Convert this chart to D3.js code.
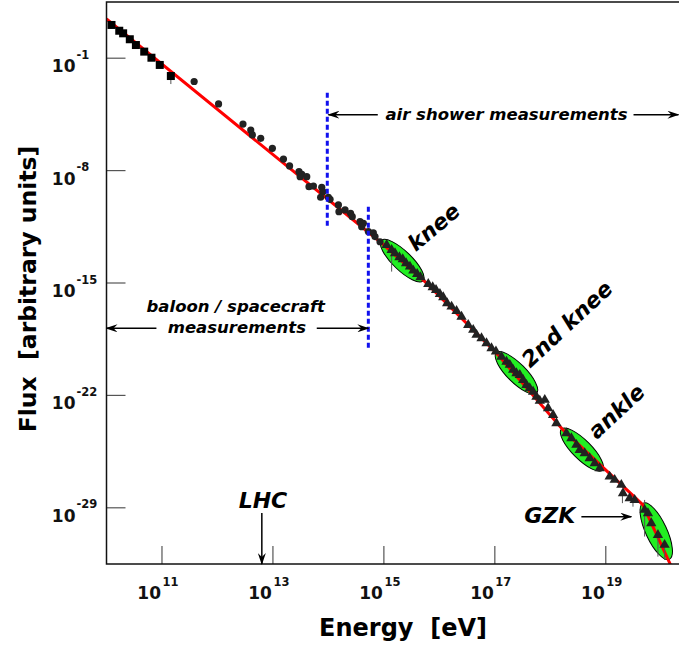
<!DOCTYPE html>
<html>
<head>
<meta charset="utf-8">
<script src="https://cdn.jsdelivr.net/npm/d3@7"></script>
<style>
  body { margin: 0; background: #fff; }
  svg { display: block; font-family: "DejaVu Sans", sans-serif; }
</style>
</head>
<body>
<svg id="chart" width="679" height="645"></svg>
<script>
// 宇宙线能谱，所有数值都是 log10
const xTicks = [11, 13, 15, 17, 19];
const yTicks = [-1, -8, -15, -22, -29];

// 红色拟合折线 [log E, log F]
const fitE = [10.0, 14.93, 15.74, 17.03, 18.23, 19.67, 20.2];
const fitF = [1.44, -12.43, -14.92, -19.37, -24.15, -28.82, -32.8];

// 方块：低能直接测量
const squareE = [10.09, 10.23, 10.30, 10.42, 10.53, 10.68, 10.81, 10.96, 11.16];
const squareF = [1.07, 0.71, 0.55, 0.18, -0.18, -0.59, -0.97, -1.42, -2.11];

// 圆点
const circleE = [11.58, 12.02, 12.46, 12.60, 12.63, 12.78, 12.99, 13.19, 13.30, 13.47, 13.49, 13.52, 13.61, 13.65, 13.73, 13.88,
                 13.90, 13.86, 14.00, 14.03, 14.18, 14.19, 14.30, 14.40, 14.43, 14.57, 14.60, 14.63, 14.72, 14.81, 14.84, 14.93];
const circleF = [-2.45, -3.85, -5.10, -5.47, -5.78, -5.99, -6.61, -7.28, -7.71, -8.07, -8.38, -8.23, -8.38, -9.00, -8.96, -9.04,
                 -9.31, -9.66, -9.66, -9.79, -10.14, -10.56, -10.45, -10.66, -10.87, -11.18, -11.49, -11.28, -11.80, -11.87, -12.11, -12.43];

// 三角：空气簇射测量
const triE = [15.05, 15.14, 15.20, 15.28, 15.34, 15.40, 15.47, 15.53, 15.60, 15.66, 15.80, 15.88, 15.94, 16.01, 16.07, 16.14,
              16.22, 16.31, 16.40, 16.52, 16.61, 16.67, 16.76, 16.85, 16.94, 17.02, 17.12, 17.21, 17.27, 17.33, 17.39, 17.45,
              17.51, 17.57, 17.63, 17.69, 17.75, 17.81, 17.90, 17.96, 18.05, 18.11, 18.29, 18.38, 18.47, 18.53, 18.62, 18.71,
              18.80, 18.89, 19.07, 19.16, 19.28, 19.31, 19.43, 19.52, 19.70, 19.76, 19.82, 19.94, 20.06];
const triF = [-12.63, -12.94, -13.15, -13.40, -13.52, -13.77, -13.98, -14.23, -14.44, -14.64, -15.06, -15.26, -15.43, -15.68, -15.89, -16.26,
              -16.47, -16.74, -17.10, -17.61, -17.92, -18.23, -18.44, -18.75, -19.06, -19.27, -19.59, -19.90, -20.10, -20.41, -20.62, -20.73,
              -21.04, -21.35, -21.55, -21.77, -22.08, -22.33, -22.28, -22.80, -23.22, -23.73, -24.36, -24.67, -25.08, -25.40, -25.60, -25.91,
              -26.22, -26.54, -27.06, -27.26, -27.57, -28.09, -28.40, -28.51, -29.13, -29.34, -29.96, -30.69, -31.31];

// 误差棒 [log E, 上, 下]
const errBars = [[11.16, -2.23, -2.61], [15.14, -13.25, -14.29], [19.30, -28.09, -28.71], [19.49, -28.51, -28.93],
                 [19.70, -28.51, -30.79], [19.94, -30.69, -32.04], [20.06, -31.31, -32.25]];

// 绿色椭圆
const regionNames = ["knee", "2nd knee", "ankle", "GZK"];
const regionE = [15.33, 17.39, 18.57, 19.91];
const regionF = [-13.61, -20.60, -25.38, -30.46];

const svg = d3.select("#chart");
const mLeft = 106.5, mRight = 689, mTop = 2, mBottom = 564;

const x = d3.scaleLog().domain([1e10, Math.pow(10, 20.5)]).range([mLeft, mRight]);
const y = d3.scaleLog().domain([Math.pow(10, -32.5), Math.pow(10, 2.5)]).range([mBottom, mTop]);
const px = e => x(Math.pow(10, e));
const py = f => y(Math.pow(10, f));

// 箭头
const defs = svg.append("defs");
defs.append("marker")
  .attr("id", "arrow")
  .attr("viewBox", "0 0 12 8")
  .attr("refX", 11).attr("refY", 4)
  .attr("markerWidth", 12).attr("markerHeight", 8)
  .attr("markerUnits", "userSpaceOnUse")
  .attr("orient", "auto-start-reverse")
  .append("path")
  .attr("d", "M0,0 L12,4 L0,8 L4,4 Z")
  .attr("fill", "#000");

defs.append("clipPath").attr("id", "plotClip")
  .append("rect")
  .attr("x", mLeft).attr("y", mTop)
  .attr("width", mRight - mLeft).attr("height", mBottom - mTop);

// 刻度线
svg.append("g").selectAll("line")
  .data(xTicks)
  .join("line")
  .attr("x1", d => px(d)).attr("x2", d => px(d))
  .attr("y1", mBottom).attr("y2", mBottom - 18)
  .attr("stroke", "#555").attr("stroke-width", 1.2);

svg.append("g").selectAll("line")
  .data(yTicks)
  .join("line")
  .attr("x1", mLeft).attr("x2", mLeft + 19)
  .attr("y1", d => py(d)).attr("y2", d => py(d))
  .attr("stroke", "#555").attr("stroke-width", 1.2);

// 刻度标签 10^n
const xLab = svg.append("g").attr("font-weight", "bold").attr("fill", "#111");
xTicks.forEach(t => {
  xLab.append("text").attr("x", px(t) - 1).attr("y", mBottom + 35)
    .attr("text-anchor", "end").attr("font-size", 17).text("10");
  xLab.append("text").attr("x", px(t) + 0.5).attr("y", mBottom + 22)
    .attr("font-size", 11.5).text(t);
});
const yLab = svg.append("g").attr("font-weight", "bold").attr("fill", "#111");
yTicks.forEach(t => {
  yLab.append("text").attr("x", mLeft - 31).attr("y", py(t) + 14)
    .attr("text-anchor", "end").attr("font-size", 17).text("10");
  yLab.append("text").attr("x", mLeft - 30).attr("y", py(t) + 0.5)
    .attr("font-size", 11.5).text(t);
});

// 轴标题
svg.append("text")
  .attr("x", 403).attr("y", 636)
  .attr("text-anchor", "middle")
  .attr("font-size", 24).attr("font-weight", "bold")
  .attr("xml:space", "preserve")
  .text("Energy  [eV]");
svg.append("text")
  .attr("transform", "translate(36,289) rotate(-90)")
  .attr("text-anchor", "middle")
  .attr("font-size", 23.5).attr("font-weight", "bold")
  .attr("xml:space", "preserve")
  .text("Flux  [arbitrary units]");

const plot = svg.append("g").attr("clip-path", "url(#plotClip)");

// 绿色椭圆
const ellRx = [29, 28.5, 29, 31];
const ellRy = [9.5, 9.5, 9.5, 10.5];
const ellAngle = [44, 45, 45, 65];
plot.append("g").selectAll("ellipse")
  .data(regionNames)
  .join("ellipse")
  .attr("transform", (d, i) => `translate(${px(regionE[i])},${py(regionF[i])}) rotate(${ellAngle[i]})`)
  .attr("rx", (d, i) => ellRx[i])
  .attr("ry", (d, i) => ellRy[i])
  .attr("fill", "#22ee22")
  .attr("stroke", "#000")
  .attr("stroke-width", 1);

// 拟合线
const fit = fitE.map((e, i) => [e, fitF[i]]);
plot.append("path")
  .datum(fit)
  .attr("d", d3.line().x(d => px(d[0])).y(d => py(d[1])))
  .attr("fill", "none")
  .attr("stroke", "#ff0000")
  .attr("stroke-width", 3);

// 误差棒
plot.append("g").selectAll("line")
  .data(errBars)
  .join("line")
  .attr("x1", d => px(d[0])).attr("x2", d => px(d[0]))
  .attr("y1", d => py(d[1])).attr("y2", d => py(d[2]))
  .attr("stroke", "#555").attr("stroke-width", 1);

// 数据点
plot.append("g").selectAll("rect")
  .data(squareE)
  .join("rect")
  .attr("x", d => px(d) - 4)
  .attr("y", (d, i) => py(squareF[i]) - 4)
  .attr("width", 8).attr("height", 8)
  .attr("fill", "#000");

plot.append("g").selectAll("circle")
  .data(circleE)
  .join("circle")
  .attr("cx", d => px(d))
  .attr("cy", (d, i) => py(circleF[i]))
  .attr("r", 3.6)
  .attr("fill", "#222");

const tri = d3.symbol().type(d3.symbolTriangle).size(46);
plot.append("g").selectAll("path")
  .data(triE)
  .join("path")
  .attr("transform", (d, i) => `translate(${px(d)},${py(triF[i])})`)
  .attr("d", tri)
  .attr("fill", "#222");

// 边框
svg.append("rect")
  .attr("x", mLeft).attr("y", mTop)
  .attr("width", mRight - mLeft).attr("height", mBottom - mTop)
  .attr("fill", "none").attr("stroke", "#111").attr("stroke-width", 1.5);

// 蓝色虚线：测量方式分界
const dashE = [13.98, 14.72];
const dashTop = [-3.15, -10.25];
const dashBot = [-11.45, -19.06];
svg.append("g").selectAll("line")
  .data(dashE)
  .join("line")
  .attr("x1", d => px(d)).attr("x2", d => px(d))
  .attr("y1", (d, i) => py(dashTop[i])).attr("y2", (d, i) => py(dashBot[i]))
  .attr("stroke", "#1111ee").attr("stroke-width", 3)
  .attr("stroke-dasharray", "5,3");

// 注释文字
const note = svg.append("g")
  .attr("font-weight", "bold").attr("font-style", "italic").attr("fill", "#000");

function arrow(e1, f1, e2, f2) {
  note.append("line")
    .attr("x1", px(e1)).attr("y1", py(f1))
    .attr("x2", px(e2)).attr("y2", py(f2))
    .attr("stroke", "#000").attr("stroke-width", 1.5)
    .attr("marker-end", "url(#arrow)");
}

// air shower
note.append("text").attr("x", px(17.21)).attr("y", py(-4.82))
  .attr("text-anchor", "middle").attr("font-size", 16.5)
  .text("air shower measurements");
arrow(14.89, -4.52, 14.0, -4.52);
arrow(19.50, -4.52, 20.31, -4.52);

// baloon / spacecraft
note.append("text").attr("x", px(12.33)).attr("y", py(-16.80))
  .attr("text-anchor", "middle").attr("font-size", 16.5)
  .text("baloon / spacecraft");
note.append("text").attr("x", px(12.35)).attr("y", py(-18.11))
  .attr("text-anchor", "middle").attr("font-size", 16.5)
  .text("measurements");
arrow(10.90, -17.82, 10.0, -17.82);
arrow(13.79, -17.82, 14.72, -17.82);

// LHC
note.append("text").attr("x", px(12.82)).attr("y", py(-29.01))
  .attr("text-anchor", "middle").attr("font-size", 22)
  .text("LHC");
arrow(12.80, -29.32, 12.80, -32.5);

// GZK
note.append("text").attr("x", px(17.99)).attr("y", py(-29.97))
  .attr("text-anchor", "middle").attr("font-size", 22)
  .text("GZK");
arrow(18.56, -29.55, 19.46, -29.55);

// 倾斜标签
const tiltE = [15.90, 18.30, 19.19];
const tiltF = [-11.51, -17.55, -22.99];
const tiltA = [-40, -43, -43];
note.selectAll("text.tilt")
  .data(regionNames.slice(0, 3))
  .join("text")
  .attr("class", "tilt")
  .attr("transform", (d, i) => `translate(${px(tiltE[i])},${py(tiltF[i])}) rotate(${tiltA[i]})`)
  .attr("text-anchor", "middle")
  .attr("dy", "0.35em")
  .attr("font-size", 22)
  .text(d => d);
</script>
</body>
</html>
